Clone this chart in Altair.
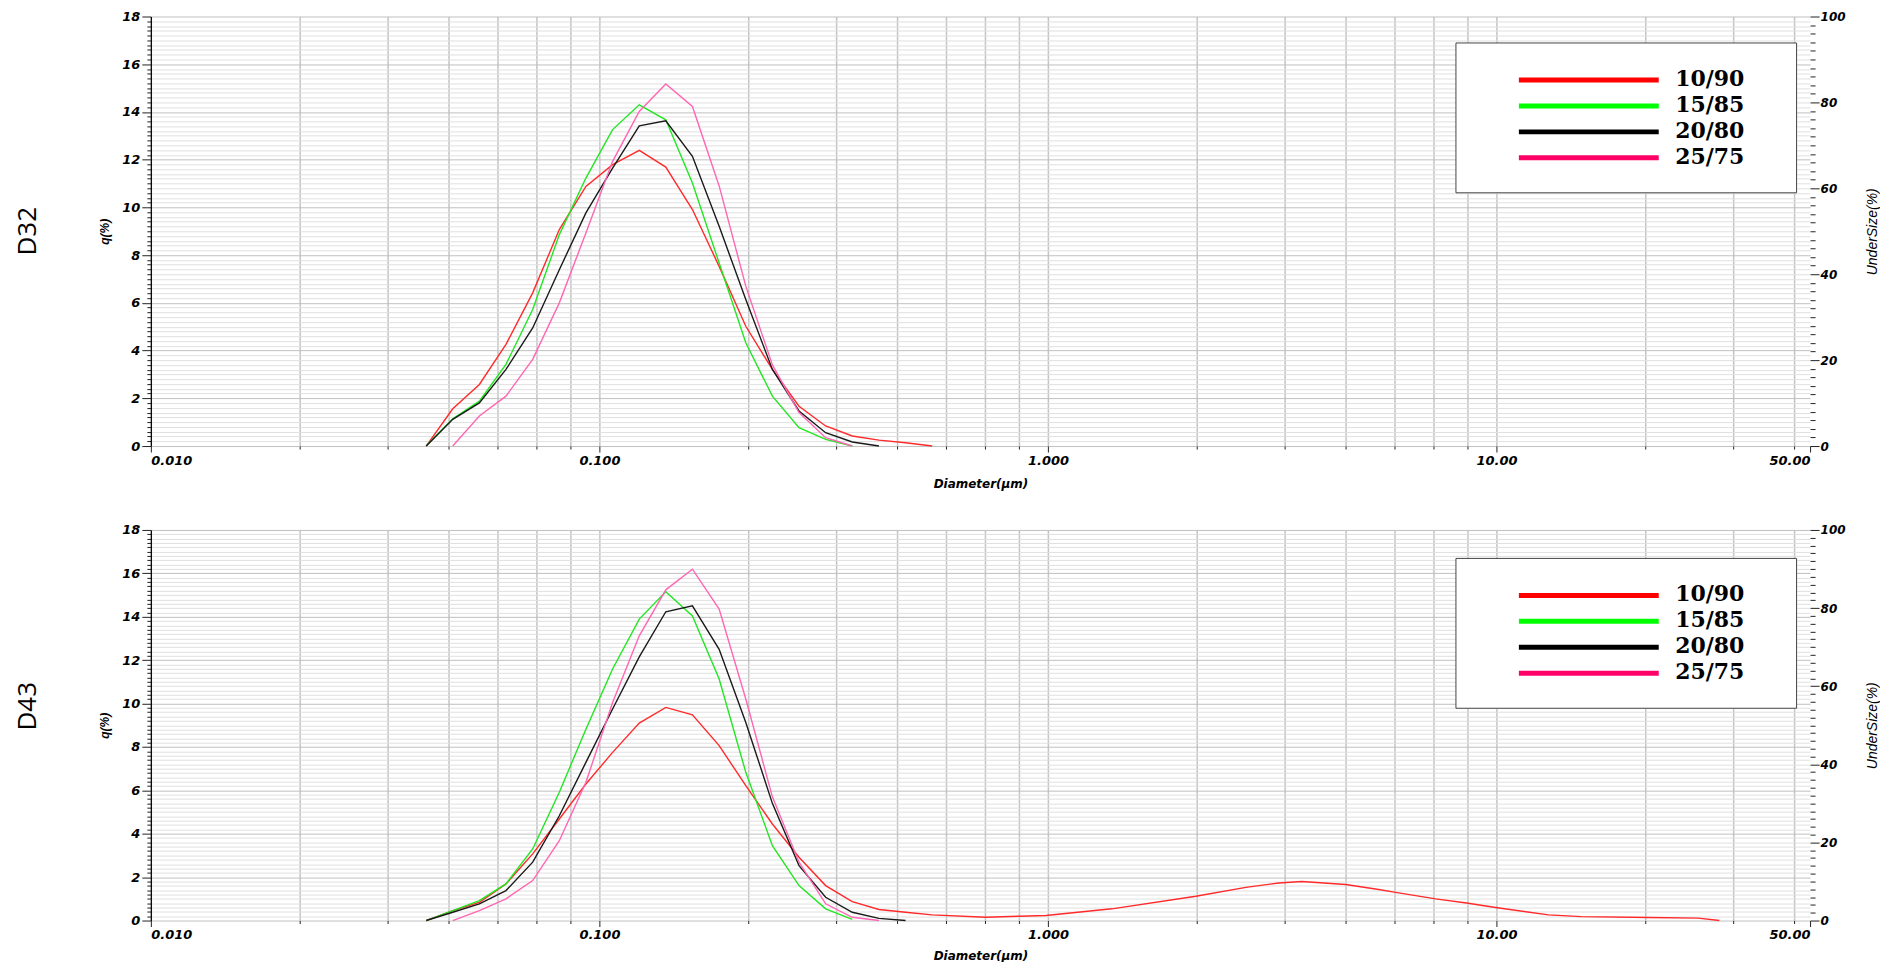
import altair as alt
import pandas as pd

SERIES = ["10/90", "15/85", "20/80", "25/75"]
LINE_COLORS = ["#ff2a2a", "#22e622", "#1a1a1a", "#ff66b3"]
LEGEND_COLORS = ["#ff0000", "#00ff00", "#000000", "#ff0066"]

DIAM = [0.0411, 0.0471, 0.0540, 0.0619, 0.0710, 0.0814, 0.0933, 0.1070, 0.1227, 0.1406,
        0.1612, 0.1849, 0.2120, 0.2430, 0.2786, 0.3194, 0.3662, 0.4199, 0.4814, 0.5519]
# coarse tail of the 10/90 D43 curve
TAIL_X = [0.727, 0.862, 0.990, 1.388, 2.136, 2.761, 3.270, 3.679, 4.610, 5.461,
          5.958, 7.313, 8.574, 9.949, 13.06, 15.46, 21.81, 28.18, 31.39]
TAIL_Q = [0.15, 0.20, 0.23, 0.54, 1.12, 1.53, 1.73, 1.80, 1.66, 1.43,
          1.30, 1.00, 0.81, 0.60, 0.26, 0.18, 0.14, 0.11, 0.0]

# D32 panel
D32_1090 = [0, 1.56, 2.58, 4.26, 6.42, 9.07, 10.88, 11.79, 12.39, 11.69,
            9.91, 7.53, 5.02, 3.21, 1.67, 0.84, 0.42, 0.25, 0.14, 0.0]
D32_1585 = [0, 1.14, 1.88, 3.42, 5.72, 8.86, 11.23, 13.26, 14.30, 13.67,
            11.02, 7.67, 4.33, 2.09, 0.77, 0.28, 0.0]
D32_2080 = [0, 1.12, 1.81, 3.21, 4.95, 7.39, 9.77, 11.65, 13.42, 13.63,
            12.14, 9.21, 6.14, 3.21, 1.47, 0.56, 0.17, 0.0]
D32_2575 = [0, 1.26, 2.09, 3.63, 6.00, 8.93, 11.93, 14.02, 15.17, 14.23,
            10.90, 6.70, 3.40, 1.40, 0.35, 0.0]

# D43 panel
D43_1090 = [0, 0.46, 0.84, 1.69, 3.07, 4.68, 6.29, 7.75, 9.10, 9.82,
            9.48, 8.06, 6.22, 4.45, 2.92, 1.61, 0.87, 0.51, 0.38, 0.26]
D43_1585 = [0, 0.46, 0.92, 1.69, 3.30, 5.91, 8.82, 11.59, 13.89, 15.15,
            14.04, 11.13, 6.83, 3.45, 1.61, 0.54, 0.05]
D43_2080 = [0, 0.38, 0.77, 1.38, 2.69, 4.83, 7.29, 9.75, 12.15, 14.23,
            14.50, 12.50, 9.13, 5.40, 2.53, 1.07, 0.38, 0.10, 0.0]
D43_2575 = [0, 0.46, 1.00, 1.84, 3.68, 6.37, 10.05, 13.12, 15.24, 16.19,
            14.35, 10.21, 5.70, 2.69, 0.77, 0.15, 0.0]

# axis ticks
X_LABEL_VALUES = [0.01, 0.1, 1, 10, 50]
X_LABEL_TEXT = ["0.010", "0.100", "1.000", "10.00", "50.00"]
X_GRID_MULT = [2.15, 3.37, 4.6, 5.93, 7.25, 8.6]
Y_MAX = 18
RIGHT_MAX = 100


def build_df(pairs):
    rows = []
    for name, xs, qs in pairs:
        for i, (d, q) in enumerate(zip(xs, qs)):
            rows.append({"d": d, "q": q, "series": name, "i": i})
    return pd.DataFrame(rows)


df32 = build_df([
    ("10/90", DIAM[:20], D32_1090),
    ("15/85", DIAM[:17], D32_1585),
    ("20/80", DIAM[:18], D32_2080),
    ("25/75", DIAM[1:17], D32_2575),
])
df43 = build_df([
    ("10/90", DIAM[:20] + TAIL_X, D43_1090 + TAIL_Q),
    ("15/85", DIAM[:17], D43_1585),
    ("20/80", DIAM[:19], D43_2080),
    ("25/75", DIAM[1:18], D43_2575),
])

x_grid = sorted(set(
    [b * m for b in [0.01, 0.1, 1, 10] for m in [1] + X_GRID_MULT if b * m <= 50] + X_LABEL_VALUES
))
label_expr = " : ".join(
    f"datum.value == {v} ? '{t}'" for v, t in zip(X_LABEL_VALUES, X_LABEL_TEXT)
) + " : ''"
major_x_test = "indexof([" + ",".join(str(v) for v in X_LABEL_VALUES) + "], datum.value) >= 0"

y_vals = [round(i * 0.2, 1) for i in range(int(Y_MAX * 5) + 1)]
r_vals = list(range(0, RIGHT_MAX + 1, 2))
MAJOR_Y = "abs(datum.value/2 - round(datum.value/2)) < 0.01"

TICK_FONT = "DejaVu Sans"


def x_axis(title_pad):
    return alt.Axis(
        values=x_grid, labelExpr=label_expr, labelOverlap=False,
        grid=True, gridColor="#c4c4c4", gridWidth=1.5,
        gridOpacity={"condition": {"test": "datum.value >= 50", "value": 0}, "value": 1},
        domain=False, ticks=True, tickColor="#222",
        tickSize={"condition": {"test": major_x_test, "value": 6}, "value": 3},
        labelFont=TICK_FONT, labelFontSize=13, labelFontWeight="bold", labelFontStyle="italic",
        labelColor="black", labelPadding=2,
        title="Diameter(µm)", titleFont=TICK_FONT, titleFontSize=12, titleFontWeight="bold",
        titleFontStyle="italic", titleColor="black", titlePadding=title_pad,
    )


LEFT_AXIS = alt.Axis(
    values=y_vals, labelExpr=MAJOR_Y + " ? format(datum.value, 'd') : ''", labelOverlap=False,
    grid=True, gridWidth=1,
    gridColor={"condition": {"test": MAJOR_Y, "value": "#c0c0c0"}, "value": "#e0e0e0"},
    domain=True, domainColor="black", domainWidth=1.2,
    ticks=True, tickColor="#222",
    tickSize={"condition": {"test": MAJOR_Y, "value": 9}, "value": 4},
    labelFont=TICK_FONT, labelFontSize=13, labelFontWeight="bold", labelFontStyle="italic",
    labelColor="black", labelPadding=2,
    title="q(%)", titleFont="Liberation Sans", titleFontSize=12, titleFontWeight="bold",
    titleFontStyle="italic", titleColor="black", titlePadding=10,
)

RIGHT_AXIS = alt.Axis(
    orient="right", values=r_vals,
    labelExpr="datum.value % 20 == 0 ? format(datum.value, 'd') : ''", labelOverlap=False,
    grid=False, domain=False, ticks=True, tickColor="#222",
    tickSize={"condition": {"test": "datum.value % 20 == 0", "value": 9}, "value": 5},
    labelFont=TICK_FONT, labelFontSize=12, labelFontWeight="bold", labelFontStyle="italic",
    labelColor="black", labelPadding=1,
    title="UnderSize(%)", titleFont="Liberation Sans", titleFontSize=14, titleFontWeight="normal",
    titleFontStyle="italic", titleColor="black", titleAngle=270, titlePadding=34,
)


def panel(df, name, height, legend_y, title_pad, title_dx):
    xenc = alt.X("d:Q", scale=alt.Scale(type="log", domain=[0.01, 50], nice=False),
                 axis=x_axis(title_pad))
    lines = alt.Chart(df).mark_line(strokeWidth=1.4).encode(
        x=xenc,
        y=alt.Y("q:Q", scale=alt.Scale(domain=[0, Y_MAX], nice=False), axis=LEFT_AXIS),
        color=alt.Color("series:N", scale=alt.Scale(domain=SERIES, range=LINE_COLORS), legend=None),
        order="i:Q",
    )
    legend_layer = alt.Chart(df).mark_line(opacity=0).encode(
        x=xenc,
        y=alt.Y("q:Q", axis=None),
        color=alt.Color(
            "series:N", scale=alt.Scale(domain=SERIES, range=LEGEND_COLORS),
            legend=alt.Legend(
                orient="none", legendX=1306, legendY=legend_y,
                title=" ", titleOrient="right", titlePadding=28, titleFontSize=4,
                fillColor="white", strokeColor="#444", padding=24,
                symbolType="M-1,0.1H13", symbolSize=400, symbolStrokeWidth=5,
                symbolOffset=37, symbolOpacity=1, labelOffset=134,
                labelFont="DejaVu Serif", labelFontSize=22, labelFontWeight="bold",
                labelColor="black", rowPadding=2,
            ),
        ),
        order="i:Q",
    )
    right = alt.Chart(pd.DataFrame({"u": [0, RIGHT_MAX]})).mark_rule(opacity=0).encode(
        y=alt.Y("u:Q", scale=alt.Scale(domain=[0, RIGHT_MAX], nice=False), axis=RIGHT_AXIS),
    )
    return alt.layer(lines, legend_layer, right).resolve_scale(
        y="independent", color="independent"
    ).properties(
        width=1661, height=height,
        title=alt.TitleParams(name, orient="left", anchor="middle", fontSize=26,
                              font="Open Sans", fontWeight="normal", color="black",
                              offset=58, dx=title_dx),
    )


top = panel(df32, "D32", 430, 26, 12, 0)
bottom = panel(df43, "D43", 391, 28, 9, 19)

chart = alt.vconcat(top, bottom, spacing=34).properties(
    padding={"left": 6, "top": 2, "right": 0, "bottom": 0},
    background="white",
).configure_view(stroke=None)

chart.save("out.html", embed_options={"renderer": "svg", "actions": False})
